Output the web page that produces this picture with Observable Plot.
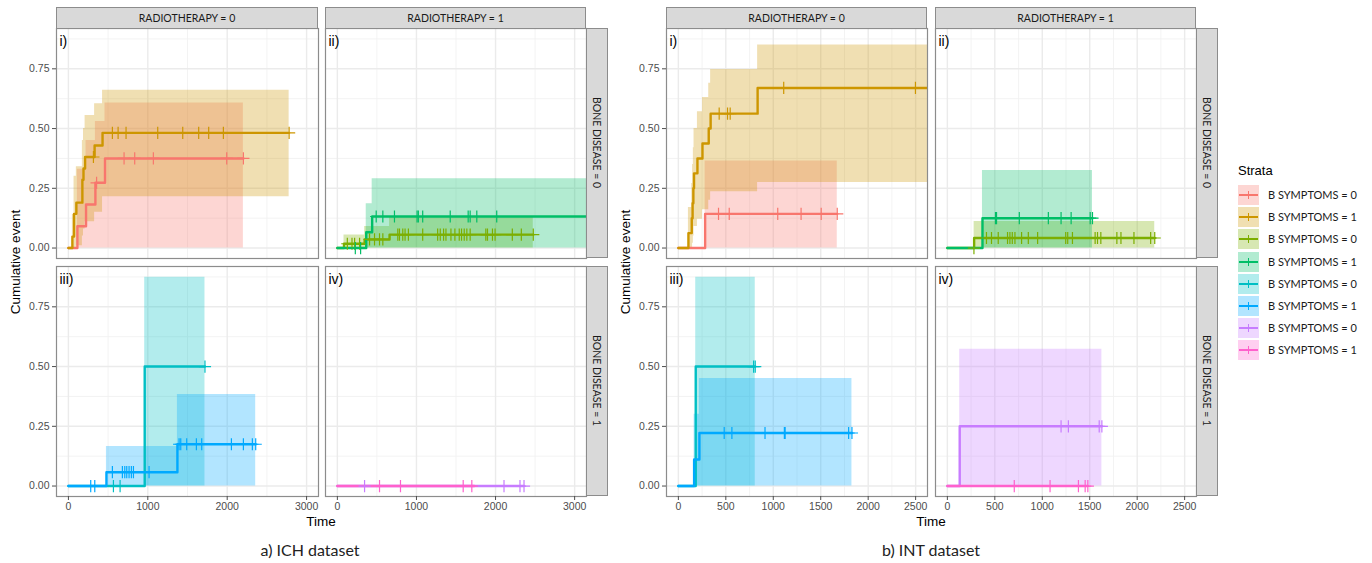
<!DOCTYPE html>
<html><head><meta charset="utf-8">
<script src="https://cdn.jsdelivr.net/npm/d3@7"></script>
<script src="https://cdn.jsdelivr.net/npm/@observablehq/plot@0.6"></script>
<style>
body{margin:0;background:#fff;}
#root{position:relative;width:1372px;height:563px;overflow:hidden;background:#fff;font-family:"Liberation Sans",Arial,sans-serif;}
.panel{position:absolute;}
.strip{position:absolute;background:#d9d9d9;border:1px solid #8c8c8c;box-sizing:border-box;display:flex;align-items:center;justify-content:center;font-family:Lato,sans-serif;font-size:10.5px;color:#1a1a1a;white-space:nowrap;}
.strip.v{writing-mode:vertical-rl;}
.txt{position:absolute;white-space:nowrap;}
</style></head><body><div id="root"></div><script>
// ---------- labels ----------
const colLabels = ["RADIOTHERAPY = 0", "RADIOTHERAPY = 1"];
const rowLabels = ["BONE DISEASE = 0", "BONE DISEASE = 1"];
const panelTags = ["i)", "ii)", "iii)", "iv)"];
const datasetCaptions = ["a) ICH dataset", "b) INT dataset"];
const legendLabels = ["B SYMPTOMS = 0","B SYMPTOMS = 1","B SYMPTOMS = 0","B SYMPTOMS = 1","B SYMPTOMS = 0","B SYMPTOMS = 1","B SYMPTOMS = 0","B SYMPTOMS = 1"];
const strataColors = ["#F8766D","#CD9600","#7CAE00","#00BE67","#00BFC4","#00A9FF","#C77CFF","#FF61CC"];
const yTicks = [0, 0.25, 0.5, 0.75];
const yMinor = [0.125, 0.375, 0.625, 0.875];
const ichXTicks = [0, 1000, 2000, 3000];
const ichXMinor = [500, 1500, 2500];
const intXTicks = [0, 500, 1000, 1500, 2000, 2500];
const intXMinor = [250, 750, 1250, 1750, 2250];

// ---------- ICH data ----------
// panel i (radiotherapy 0, bone 0)
const ich1_b0_time = [0, 113, 222, 340, 461, 2204];
const ich1_b0_est  = [0, 0.091, 0.182, 0.273, 0.375, 0.375];
const ich1_b0_lo   = [0, 0, 0, 0, 0, 0];
const ich1_b0_hi   = [0, 0.33, 0.45, 0.53, 0.607, 0.607];
const ich1_b0_cens = [355, 701, 835, 1070, 1994, 2204];
const ich1_b1_time = [0, 50, 71, 100, 176, 190, 210, 330, 430, 2780];
const ich1_b1_est  = [0, 0.048, 0.143, 0.19, 0.286, 0.333, 0.381, 0.429, 0.482, 0.482];
const ich1_b1_lo   = [0, 0, 0, 0.01, 0.05, 0.08, 0.11, 0.15, 0.215, 0.215];
const ich1_b1_hi   = [0, 0.14, 0.30, 0.34, 0.45, 0.50, 0.555, 0.604, 0.66, 0.66];
const ich1_b1_cens = [315, 554, 626, 726, 1125, 1440, 1641, 1767, 1952, 2780];
// panel ii (radiotherapy 1, bone 0)
const ich2_b0_time = [0, 84, 345, 660, 2477];
const ich2_b0_est  = [0, 0.018, 0.036, 0.056, 0.056];
const ich2_b0_lo   = [0, 0, 0, 0, 0];
const ich2_b0_hi   = [0, 0.055, 0.09, 0.13, 0.13];
const ich2_b0_cens = [126, 185, 218, 281, 407, 470, 533, 575, 764, 785, 827, 856, 898, 1079, 1268, 1301, 1343, 1373, 1436, 1486, 1541, 1570, 1604, 1637, 1679, 1877, 1898, 1961, 1994, 2212, 2326, 2477];
const ich2_b1_time = [0, 365, 440, 3300];
const ich2_b1_est  = [0, 0.066, 0.132, 0.132];
const ich2_b1_lo   = [0, 0, 0, 0];
const ich2_b1_hi   = [0, 0.185, 0.29, 0.29];
const ich2_b1_cens = [227, 294, 491, 575, 722, 1008, 1024, 1079, 1427, 1654, 1679, 1763, 2015];
// panel iii (radiotherapy 0, bone 1)
const ich3_b0_time = [0, 961, 1720];
const ich3_b0_est  = [0, 0.5, 0.5];
const ich3_b0_lo   = [0, 0, 0];
const ich3_b0_hi   = [0, 0.874, 0.874];
const ich3_b0_cens = [567, 651, 1720];
const ich3_b1_time = [0, 479, 1373, 2359];
const ich3_b1_est  = [0, 0.058, 0.175, 0.175];
const ich3_b1_lo   = [0, 0, 0, 0];
const ich3_b1_hi   = [0, 0.165, 0.383, 0.383];
const ich3_b1_cens = [281, 332, 554, 680, 710, 735, 764, 793, 819, 1016, 1394, 1415, 1490, 1612, 1679, 2053, 2204, 2317, 2359];
// panel iv (radiotherapy 1, bone 1)
const ich4_b0_time = [0, 2360];
const ich4_b0_est  = [0, 0];
const ich4_b0_lo   = [0, 0];
const ich4_b0_hi   = [0, 0];
const ich4_b0_cens = [344, 2107, 2309, 2360];
const ich4_b1_time = [0, 1730];
const ich4_b1_est  = [0, 0];
const ich4_b1_lo   = [0, 0];
const ich4_b1_hi   = [0, 0];
const ich4_b1_cens = [533, 798, 1591, 1700];

// ---------- INT data ----------
const int1_b0_time = [0, 282, 1674];
const int1_b0_est  = [0, 0.143, 0.143];
const int1_b0_lo   = [0, 0, 0];
const int1_b0_hi   = [0, 0.364, 0.364];
const int1_b0_cens = [423, 536, 1047, 1293, 1505, 1674];
const int1_b1_time = [0, 106, 141, 150, 158, 165, 201, 254, 320, 340, 835, 2800];
const int1_b1_est  = [0, 0.0625, 0.125, 0.1875, 0.25, 0.3125, 0.375, 0.4375, 0.5, 0.5625, 0.67, 0.67];
const int1_b1_lo   = [0, 0, 0, 0.02, 0.05, 0.09, 0.12, 0.16, 0.2, 0.236, 0.274, 0.274];
const int1_b1_hi   = [0, 0.17, 0.27, 0.35, 0.42, 0.5, 0.57, 0.63, 0.69, 0.747, 0.85, 0.85];
const int1_b1_cens = [430, 518, 546, 1110, 2498];
const int2_b0_time = [0, 282, 2185];
const int2_b0_est  = [0, 0.042, 0.042];
const int2_b0_lo   = [0, 0, 0];
const int2_b0_hi   = [0, 0.111, 0.111];
const int2_b0_cens = [280, 412, 465, 536, 634, 659, 684, 712, 782, 853, 951, 1247, 1268, 1318, 1557, 1582, 1617, 1786, 1829, 1966, 2142, 2185];
const int2_b1_time = [0, 370, 1529];
const int2_b1_est  = [0, 0.125, 0.125];
const int2_b1_lo   = [0, 0, 0];
const int2_b1_hi   = [0, 0.324, 0.324];
const int2_b1_cens = [507, 518, 758, 1064, 1198, 1304, 1505, 1529];
const int3_b0_time = [0, 183, 810];
const int3_b0_est  = [0, 0.5, 0.5];
const int3_b0_lo   = [0, 0, 0];
const int3_b0_hi   = [0, 0.874, 0.874];
const int3_b0_cens = [793, 810];
const int3_b1_time = [0, 166, 222, 1829];
const int3_b1_est  = [0, 0.111, 0.222, 0.222];
const int3_b1_lo   = [0, 0, 0, 0];
const int3_b1_hi   = [0, 0.3, 0.45, 0.45];
const int3_b1_cens = [483, 564, 913, 1117, 1125, 1794, 1829];
const int4_b0_time = [0, 130, 1628];
const int4_b0_est  = [0, 0.25, 0.25];
const int4_b0_lo   = [0, 0, 0];
const int4_b0_hi   = [0, 0.572, 0.572];
const int4_b0_cens = [1198, 1275, 1600, 1628];
const int4_b1_time = [0, 1480];
const int4_b1_est  = [0, 0];
const int4_b1_lo   = [0, 0];
const int4_b1_hi   = [0, 0];
const int4_b1_cens = [705, 1082, 1381, 1452, 1480];

// ---------- helpers ----------
function curve(time, est, lo, hi, cens, color) {
  const steps = time.map((t, i) => ({t, est: est[i], lo: lo[i], hi: hi[i]}));
  const stepAt = x => { let v = est[0]; for (let i = 0; i < time.length; i++) if (time[i] <= x) v = est[i]; return v; };
  return {steps, cens: cens.map(t => ({t, est: stepAt(t)})), color};
}

const root = document.getElementById("root");
const yDomain = [-0.04375, 0.91875];
const PH = 230;

function panel({curves, xDomain, xTicks, xMinor, left, top, width, tag, showY, showX}) {
  const mL = showY ? 45 : 0, mB = showX ? 25 : 0;
  const marks = [
    Plot.gridX(xMinor, {stroke: "#f2f2f2", strokeOpacity: 1, strokeWidth: 0.9}),
    Plot.gridY(yMinor, {stroke: "#f2f2f2", strokeOpacity: 1, strokeWidth: 0.9}),
    Plot.gridX(xTicks, {stroke: "#ebebeb", strokeOpacity: 1, strokeWidth: 1.4}),
    Plot.gridY(yTicks, {stroke: "#ebebeb", strokeOpacity: 1, strokeWidth: 1.4})
  ];
  for (const c of curves) marks.push(Plot.areaY(c.steps, {x: "t", y1: "lo", y2: "hi", curve: "step-after", fill: c.color, fillOpacity: 0.3, clip: true}));
  for (const c of curves) marks.push(Plot.lineY(c.steps, {x: "t", y: "est", curve: "step-after", stroke: c.color, strokeWidth: 2.4, clip: true}));
  for (const c of curves) marks.push(Plot.dot(c.cens, {x: "t", y: "est", symbol: "plus", r: 4, stroke: c.color, strokeWidth: 1.2, clip: true}));
  marks.push(Plot.frame({stroke: "#8c8c8c", strokeWidth: 1.2}));
  marks.push(Plot.text([tag], {text: d => d, frameAnchor: "top-left", dx: 3, dy: 8, fontSize: 14, fill: "#000", fontFamily: "Liberation Sans, Arial, sans-serif"}));
  if (showY) marks.push(Plot.axisY(yTicks, {tickFormat: d3.format(".2f"), tickSize: 4, tickPadding: 3, fontSize: 10.5, color: "#4d4d4d", label: null}));
  if (showX) marks.push(Plot.axisX(xTicks, {tickFormat: d3.format("d"), tickSize: 4, tickPadding: 2, fontSize: 10.5, color: "#4d4d4d", label: null}));
  const p = Plot.plot({
    width: width + mL, height: PH + mB,
    marginLeft: mL, marginRight: 0, marginTop: 0, marginBottom: mB,
    style: {overflow: "visible", background: "transparent", fontFamily: "Liberation Sans, Arial, sans-serif"},
    x: {domain: xDomain, label: null, axis: showX ? undefined : null},
    y: {domain: yDomain, label: null, axis: showY ? undefined : null},
    marks
  });
  p.classList.add("panel");
  p.style.left = (left - mL) + "px";
  p.style.top = top + "px";
  root.appendChild(p);
}

function addDiv(cls, text, css) {
  const d = document.createElement("div");
  d.className = cls; d.textContent = text;
  Object.assign(d.style, css);
  root.appendChild(d);
  return d;
}

function facetGrid(cfg) {
  const rowsTop = [28, 266];
  const C = strataColors;
  const data = cfg.data;
  for (let k = 0; k < 4; k++) {
    const col = k % 2, row = Math.floor(k / 2);
    panel({curves: data[k].map((c, j) => curve(...c, C[2 * k + j])),
      xDomain: cfg.xDomain, xTicks: cfg.xTicks, xMinor: cfg.xMinor,
      left: cfg.colsLeft[col], top: rowsTop[row], width: cfg.colsW[col],
      tag: panelTags[k], showY: col === 0, showX: row === 1});
  }
  for (let col = 0; col < 2; col++)
    addDiv("strip", colLabels[col], {left: cfg.colsLeft[col] + "px", top: "7px", width: cfg.colsW[col] + "px", height: "22px"});
  const sx = cfg.colsLeft[1] + cfg.colsW[1];
  for (let row = 0; row < 2; row++)
    addDiv("strip v", rowLabels[row], {left: sx + "px", top: rowsTop[row] + "px", width: "22px", height: PH + "px"});
  const cx = (cfg.colsLeft[0] + sx) / 2;
  addDiv("txt", "Time", {left: (cx - 50) + "px", width: "100px", textAlign: "center", top: "514px", fontSize: "13.5px", color: "#000"});
  addDiv("txt", "Cumulative event", {left: (cfg.colsLeft[0] - 40 - 100) + "px", width: "200px", textAlign: "center", top: "253px", fontSize: "13.5px", color: "#000", transform: "rotate(-90deg)", lineHeight: "18px"});
  addDiv("txt", cfg.caption, {left: (cfg.captionX - 100) + "px", width: "200px", textAlign: "center", top: "540px", fontSize: "16px", fontFamily: "Lato, sans-serif", color: "#222"});
}

facetGrid({
  data: [
    [[ich1_b0_time, ich1_b0_est, ich1_b0_lo, ich1_b0_hi, ich1_b0_cens], [ich1_b1_time, ich1_b1_est, ich1_b1_lo, ich1_b1_hi, ich1_b1_cens]],
    [[ich2_b0_time, ich2_b0_est, ich2_b0_lo, ich2_b0_hi, ich2_b0_cens], [ich2_b1_time, ich2_b1_est, ich2_b1_lo, ich2_b1_hi, ich2_b1_cens]],
    [[ich3_b0_time, ich3_b0_est, ich3_b0_lo, ich3_b0_hi, ich3_b0_cens], [ich3_b1_time, ich3_b1_est, ich3_b1_lo, ich3_b1_hi, ich3_b1_cens]],
    [[ich4_b0_time, ich4_b0_est, ich4_b0_lo, ich4_b0_hi, ich4_b0_cens], [ich4_b1_time, ich4_b1_est, ich4_b1_lo, ich4_b1_hi, ich4_b1_cens]]
  ],
  xDomain: [-150, 3150], xTicks: ichXTicks, xMinor: ichXMinor,
  colsLeft: [56, 325], colsW: [262, 261], caption: datasetCaptions[0], captionX: 310
});
facetGrid({
  data: [
    [[int1_b0_time, int1_b0_est, int1_b0_lo, int1_b0_hi, int1_b0_cens], [int1_b1_time, int1_b1_est, int1_b1_lo, int1_b1_hi, int1_b1_cens]],
    [[int2_b0_time, int2_b0_est, int2_b0_lo, int2_b0_hi, int2_b0_cens], [int2_b1_time, int2_b1_est, int2_b1_lo, int2_b1_hi, int2_b1_cens]],
    [[int3_b0_time, int3_b0_est, int3_b0_lo, int3_b0_hi, int3_b0_cens], [int3_b1_time, int3_b1_est, int3_b1_lo, int3_b1_hi, int3_b1_cens]],
    [[int4_b0_time, int4_b0_est, int4_b0_lo, int4_b0_hi, int4_b0_cens], [int4_b1_time, int4_b1_est, int4_b1_lo, int4_b1_hi, int4_b1_cens]]
  ],
  xDomain: [-125, 2625], xTicks: intXTicks, xMinor: intXMinor,
  colsLeft: [666, 935], colsW: [261, 261], caption: datasetCaptions[1], captionX: 931
});

// ---------- legend ----------
addDiv("txt", "Strata", {left: "1238px", top: "163px", fontSize: "13px", color: "#000"});
strataColors.forEach((c, i) => {
  const y = 185 + i * 22.2;
  const key = addDiv("txt", "", {left: "1238px", top: y + "px", width: "21px", height: "20px", background: c + "4d"});
  const h = document.createElement("div");
  Object.assign(h.style, {position: "absolute", left: "1px", right: "1px", top: "9px", height: "2px", background: c});
  const v = document.createElement("div");
  Object.assign(v.style, {position: "absolute", left: "10px", width: "1.3px", top: "6px", height: "8px", background: c});
  key.appendChild(h); key.appendChild(v);
  addDiv("txt", legendLabels[i], {left: "1268px", top: (y + 3) + "px", fontSize: "11px", fontFamily: "Lato, sans-serif", color: "#1a1a1a"});
});
</script></body></html>
